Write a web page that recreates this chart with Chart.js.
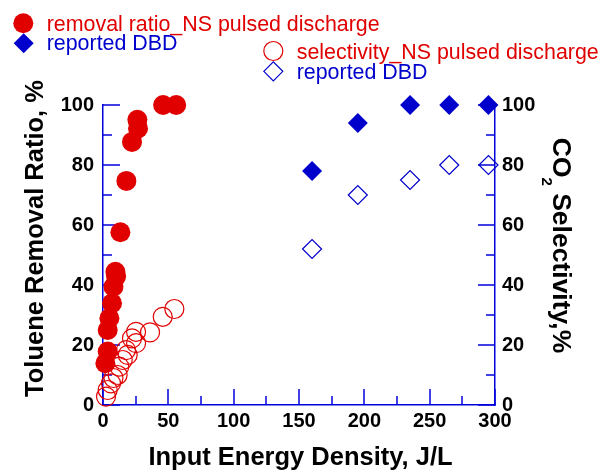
<!DOCTYPE html>
<html><head><meta charset="utf-8">
<script src="https://cdn.jsdelivr.net/npm/chart.js@4/dist/chart.umd.min.js"></script>
<style>html,body{margin:0;padding:0;background:#fff}#wrap{width:610px;height:470px;position:relative}canvas{display:block}</style>
</head><body><div id="wrap"><canvas id="c" width="610" height="470"></canvas></div>
<script>
// ---- data ----
const energyNS      = [1.8, 3.6, 3.6, 4.9, 6.9, 8.0, 10.0, 9.5, 13.3, 17.9, 22.2, 26.8, 26.3, 46, 56];
const removalNS     = [13.9, 17.8, 25.0, 28.9, 33.9, 39.4, 42.8, 44.4, 57.6, 74.7, 87.7, 92.2, 95.1, 100, 100];
const energySelNS   = [2.3, 3.6, 6.1, 8.0, 11.2, 12.5, 15.1, 18.9, 17.6, 25.3, 22.2, 25.3, 36.0, 45.7, 54.6];
const selectivityNS = [2.8, 5.0, 7.2, 9.0, 10.0, 12.8, 15.0, 16.7, 18.3, 20.6, 22.2, 24.4, 24.2, 29.4, 32.0];
const energyDBD      = [160, 195, 235, 265, 295];
const removalDBD     = [78, 94, 100, 100, 100];
const selectivityDBD = [52, 70, 75, 80, 80];
const xTickLabels = [0, 50, 100, 150, 200, 250, 300];
const yTickLabels = [0, 20, 40, 60, 80, 100];
const xTickMarks = [0, 25, 50, 75, 100, 125, 150, 175, 200, 225, 250, 275, 300];
const yTickMarks = [0, 10, 20, 30, 40, 50, 60, 70, 80, 90, 100];
const seriesLabels = ['removal ratio_NS pulsed discharge', 'selectivity_NS pulsed discharge', 'reported DBD', 'reported DBD'];
const xTitle = 'Input Energy Density, J/L';
const yTitle = 'Toluene Removal Ratio, %';
const y2Title = ['CO', '2', ' Selectivity,%'];

// ---- styles ----
const RED = '#e00000', BLUE = '#0000cc', AXIS = '#0000dd';
const FONT = '"Liberation Sans", Arial, Helvetica, sans-serif';

function pts(xs, ys) { return xs.map((x, i) => ({x: x, y: ys[i]})); }

function drawMarker(ctx, style, x, y, r, fill, stroke, lw) {
  ctx.save();
  ctx.beginPath();
  if (style === 'circle') {
    ctx.arc(x, y, r, 0, Math.PI * 2);
  } else {
    ctx.moveTo(x - r, y); ctx.lineTo(x, y - r); ctx.lineTo(x + r, y); ctx.lineTo(x, y + r); ctx.closePath();
  }
  if (fill) { ctx.fillStyle = fill; ctx.fill(); }
  if (stroke && lw) { ctx.strokeStyle = stroke; ctx.lineWidth = lw; ctx.stroke(); }
  ctx.restore();
}

const tickPlugin = {
  id: 'innerTicks',
  beforeDatasetsDraw(chart) {
    const ctx = chart.ctx, ca = chart.chartArea;
    const sx = chart.scales.x, sy = chart.scales.y, sy2 = chart.scales.y2;
    ctx.save();
    ctx.strokeStyle = AXIS; ctx.lineWidth = 1.5;
    xTickMarks.forEach(v => {
      const px = Math.round(sx.getPixelForValue(v));
      const len = v % 50 === 0 ? 16 : 9;
      ctx.beginPath(); ctx.moveTo(px, ca.bottom); ctx.lineTo(px, ca.bottom - len); ctx.stroke();
    });
    yTickMarks.forEach(v => {
      const len = v % 20 === 0 ? 17 : 9;
      const py = Math.round(sy.getPixelForValue(v));
      ctx.beginPath(); ctx.moveTo(ca.left, py); ctx.lineTo(ca.left + len, py); ctx.stroke();
      const py2 = Math.round(sy2.getPixelForValue(v));
      ctx.beginPath(); ctx.moveTo(ca.right, py2); ctx.lineTo(ca.right - len, py2); ctx.stroke();
    });
    ctx.restore();
  }
};

const titlePlugin = {
  id: 'axisTitles',
  afterDraw(chart) {
    const ctx = chart.ctx;
    ctx.save();
    ctx.fillStyle = '#000';
    ctx.font = 'bold 25.5px ' + FONT;
    ctx.textAlign = 'center'; ctx.textBaseline = 'alphabetic';
    ctx.fillText(xTitle, 300.5, 465);
    // left title
    ctx.save();
    ctx.translate(43, 238.5); ctx.rotate(-Math.PI / 2);
    ctx.fillText(yTitle, 0, 0);
    ctx.restore();
    // right title with subscript
    ctx.save();
    ctx.translate(552.5, 245.5); ctx.rotate(Math.PI / 2);
    ctx.textAlign = 'left';
    const big = 'bold 26.5px ' + FONT, small = 'bold 15px ' + FONT;
    ctx.font = big; const w1 = ctx.measureText(y2Title[0]).width, w3 = ctx.measureText(y2Title[2]).width;
    ctx.font = small; const w2 = ctx.measureText(y2Title[1]).width;
    let x0 = -(w1 + w2 + w3) / 2;
    ctx.font = big; ctx.fillText(y2Title[0], x0, 0); x0 += w1;
    ctx.font = small; ctx.fillText(y2Title[1], x0, 10.5); x0 += w2;
    ctx.font = big; ctx.fillText(y2Title[2], x0, 0);
    ctx.restore();
    ctx.restore();
  }
};

const legendPlugin = {
  id: 'customLegend',
  afterDraw(chart) {
    const ctx = chart.ctx;
    const items = [
      {ds: 0, mx: 23.3, my: 23.3, tx: 46.7, ty: 30.5},
      {ds: 2, mx: 23.7, my: 43.3, tx: 46.7, ty: 50},
      {ds: 1, mx: 273.3, my: 51, tx: 296.7, ty: 59},
      {ds: 3, mx: 273.3, my: 71.3, tx: 296.7, ty: 78.5}
    ];
    ctx.save();
    ctx.font = '21.4px ' + FONT; ctx.textAlign = 'left'; ctx.textBaseline = 'alphabetic';
    items.forEach(it => {
      const d = chart.data.datasets[it.ds];
      const filled = d.backgroundColor !== 'rgba(0,0,0,0)';
      drawMarker(ctx, d.pointStyle, it.mx, it.my, d.pointRadius, filled ? d.backgroundColor : null, d.borderColor, filled ? 0 : d.borderWidth);
      ctx.fillStyle = d.borderColor;
      ctx.fillText(d.label, it.tx, it.ty);
    });
    ctx.restore();
  }
};

const tickFont = {family: FONT, size: 20, weight: 'bold'};

new Chart(document.getElementById('c'), {
  type: 'scatter',
  data: {
    datasets: [
      {label: seriesLabels[0], data: pts(energyNS, removalNS), yAxisID: 'y', pointStyle: 'circle', pointRadius: 10,
        backgroundColor: RED, borderColor: RED, borderWidth: 0, clip: false},
      {label: seriesLabels[1], data: pts(energySelNS, selectivityNS), yAxisID: 'y2', pointStyle: 'circle', pointRadius: 9.5,
        backgroundColor: 'rgba(0,0,0,0)', borderColor: RED, borderWidth: 1.2, clip: false},
      {label: seriesLabels[2], data: pts(energyDBD, removalDBD), yAxisID: 'y', pointStyle: 'rectRot', pointRadius: 10,
        backgroundColor: BLUE, borderColor: BLUE, borderWidth: 0, clip: false},
      {label: seriesLabels[3], data: pts(energyDBD, selectivityDBD), yAxisID: 'y2', pointStyle: 'rectRot', pointRadius: 9.5,
        backgroundColor: 'rgba(0,0,0,0)', borderColor: BLUE, borderWidth: 1.2, clip: false}
    ]
  },
  options: {
    responsive: false, animation: false, devicePixelRatio: 1, events: [],
    layout: {padding: {top: 105, left: 0, right: 0, bottom: 0}},
    plugins: {legend: {display: false}, tooltip: {enabled: false}, title: {display: false}},
    scales: {
      x: {type: 'linear', position: 'bottom', min: 0, max: 300,
        afterBuildTicks(s) { s.ticks = xTickLabels.map(v => ({value: v})); },
        afterFit(s) { s.height = 65; },
        ticks: {color: '#000', font: tickFont, padding: 4, maxRotation: 0, autoSkip: false},
        grid: {display: true, drawOnChartArea: false, drawTicks: false},
        border: {display: true, color: AXIS, width: 1.5}},
      y: {type: 'linear', position: 'left', min: 0, max: 100,
        afterBuildTicks(s) { s.ticks = yTickLabels.map(v => ({value: v})); },
        afterFit(s) { s.width = 103; },
        ticks: {color: '#000', font: tickFont, padding: 9, autoSkip: false},
        grid: {display: true, drawOnChartArea: false, drawTicks: false},
        border: {display: true, color: AXIS, width: 1.5}},
      y2: {type: 'linear', position: 'right', min: 0, max: 100,
        afterBuildTicks(s) { s.ticks = yTickLabels.map(v => ({value: v})); },
        afterFit(s) { s.width = 115; },
        ticks: {color: '#000', font: tickFont, padding: 7, autoSkip: false},
        grid: {display: true, drawOnChartArea: false, drawTicks: false},
        border: {display: true, color: AXIS, width: 1.5}}
    }
  },
  plugins: [tickPlugin, titlePlugin, legendPlugin]
});
</script></body></html>
